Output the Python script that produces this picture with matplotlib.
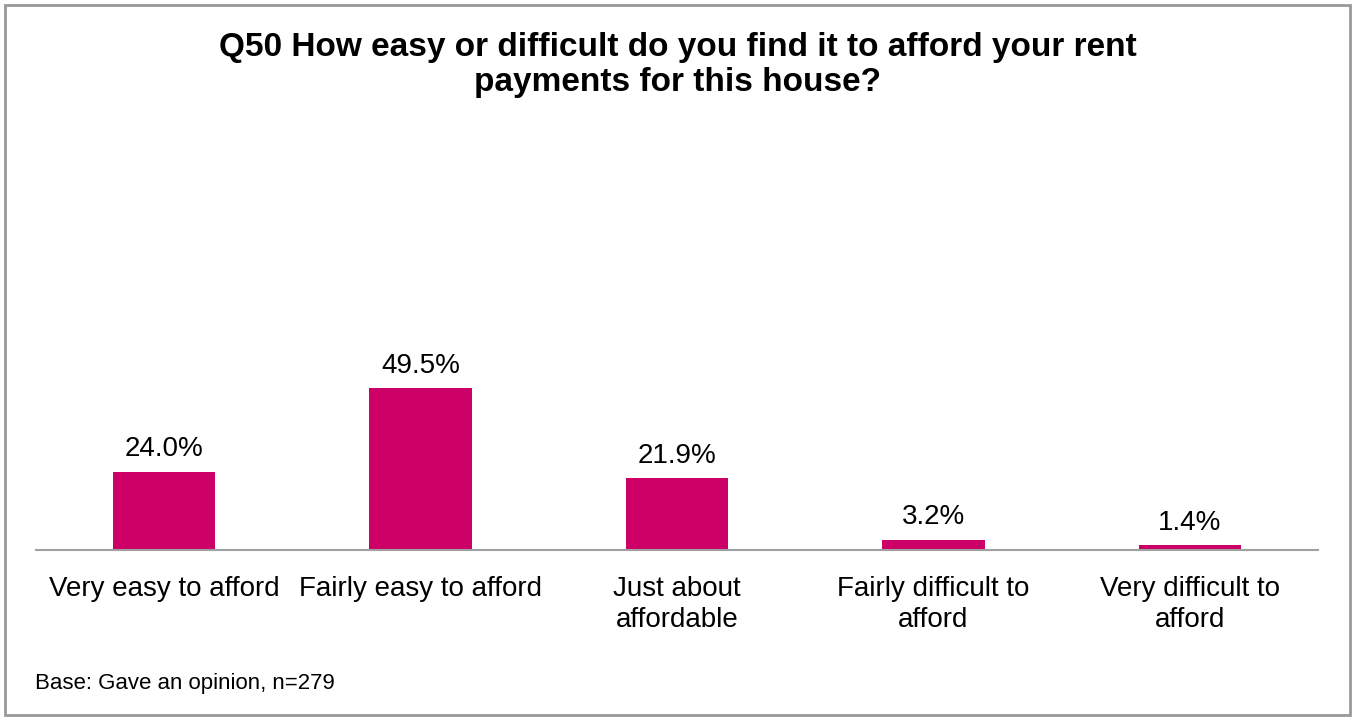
import matplotlib.pyplot as plt
from matplotlib.patches import Rectangle

plt.rcParams['font.family'] = ['Liberation Sans', 'DejaVu Sans']

# Survey answers and shares (%)
categories = ['Very easy to afford', 'Fairly easy to afford', 'Just about\naffordable',
              'Fairly difficult to\nafford', 'Very difficult to\nafford']
shares = [24.0, 49.5, 21.9, 3.2, 1.4]

W, H = 1356, 720
fig = plt.figure(figsize=(W / 100, H / 100), dpi=100)

# grey frame round the whole chart
fig.patches.append(Rectangle((5 / W, 5 / H), 1345 / W, 710 / H, transform=fig.transFigure,
                             fill=False, edgecolor='#999999', linewidth=2))

ax = fig.add_axes([36 / W, 1 - 550 / H, 1282 / W, 196 / H])
x = range(len(categories))
bars = ax.bar(x, shares, width=0.40, color='#CC0066')
ax.set_xlim(-0.5, len(categories) - 0.5)
ax.set_ylim(0, 60)

for b, v in zip(bars, shares):
    ax.annotate(f'{v:.1f}%', (b.get_x() + b.get_width() / 2, v), xytext=(0, 11),
                textcoords='offset points', ha='center', va='baseline', fontsize=20)

for s in ['top', 'right', 'left']:
    ax.spines[s].set_visible(False)
ax.spines['bottom'].set_color('#A0A0A0')
ax.spines['bottom'].set_linewidth(1.5)
ax.set_yticks([])
ax.set_xticks(list(x))
ax.set_xticklabels(categories, fontsize=20, linespacing=1.22)
ax.tick_params(axis='x', length=0, pad=19)

fig.text(0.5, 1 - 65 / H, 'Q50 How easy or difficult do you find it to afford your rent\npayments for this house?',
         ha='center', va='center', fontsize=24, fontweight='bold', linespacing=1.2)
fig.text(35 / W, 1 - 689 / H, 'Base: Gave an opinion, n=279', ha='left', va='baseline', fontsize=16)

fig.savefig('out.png', dpi=100)
